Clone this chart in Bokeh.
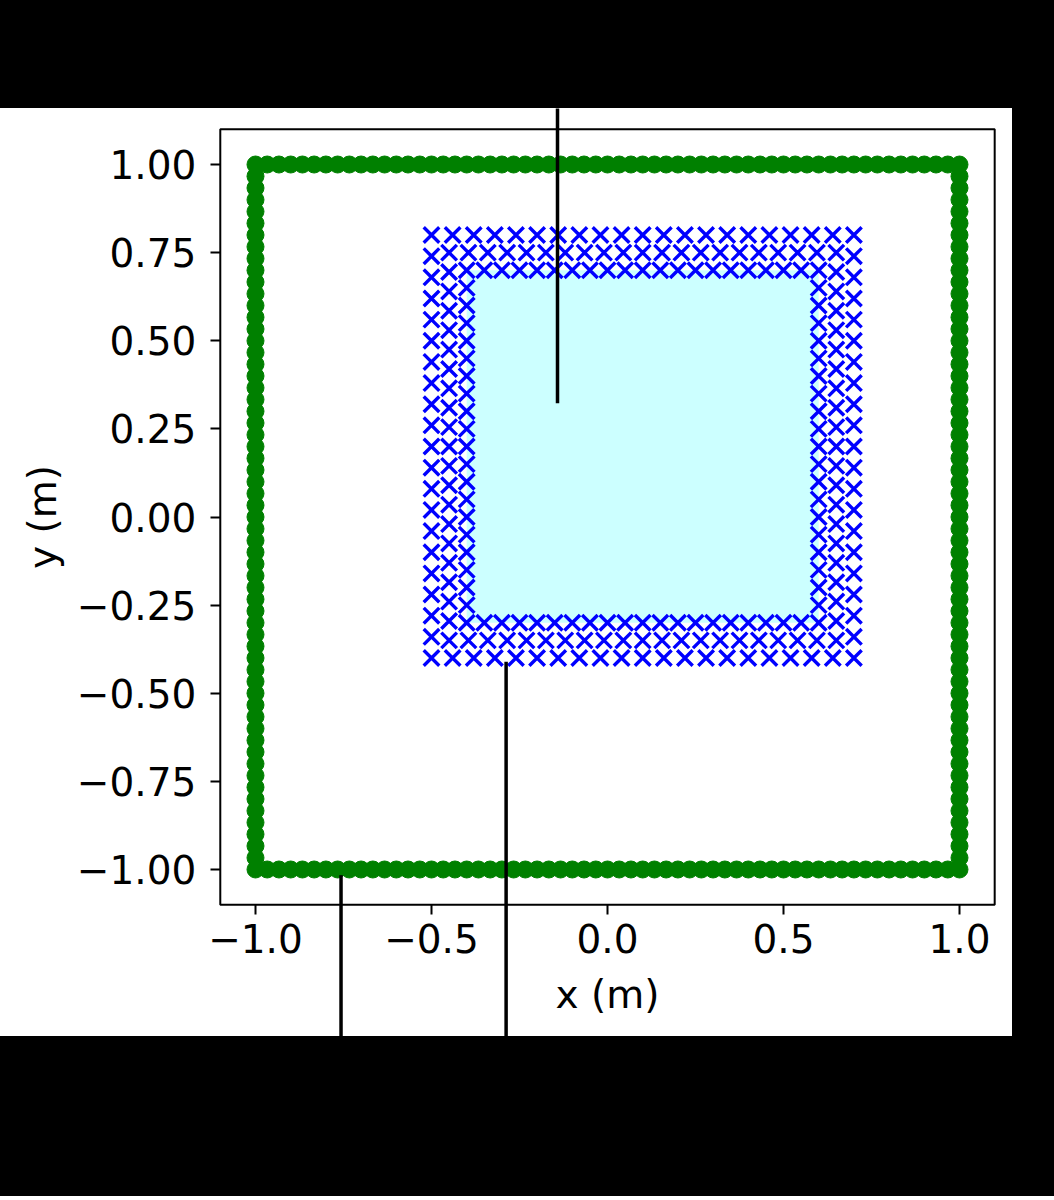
import numpy as np
from bokeh.plotting import figure
from bokeh.models import Arrow, FixedTicker, Range1d, Div, BoxAnnotation, Label
from bokeh.layouts import column, row
from bokeh.embed import file_html
from bokeh.resources import INLINE

# ---- data ----
# outer boundary: green circles on the square [-1, 1] x [-1, 1]
outer_lo, outer_hi = -1.0, 1.0
outer_per_side = 60

# interior region (light cyan) and three layers of blue crosses around it
region_left, region_right = -0.4, 0.6
region_bottom, region_top = -0.3, 0.7
layer_offsets = [0.0, 0.05, 0.1]
layer_per_side = 20

# annotation leader lines: (x, y at the tip, y far end outside the axes)
leader_x = [-0.142, -0.757, -0.288]
leader_y_tip = [0.323, -1.016, -0.411]
leader_y_far = [1.6, -1.6, -1.6]

x_ticks = [-1.0, -0.5, 0.0, 0.5, 1.0]
x_tick_labels = ["\u22121.0", "\u22120.5", "0.0", "0.5", "1.0"]
y_ticks = [1.0, 0.75, 0.5, 0.25, 0.0, -0.25, -0.5, -0.75, -1.0]
y_tick_labels = ["1.00", "0.75", "0.50", "0.25", "0.00",
                 "\u22120.25", "\u22120.50", "\u22120.75", "\u22121.00"]
x_title = "x (m)"
y_title = "y (m)"

# axes limits and the extent of the white figure area (data units)
ax_lo, ax_hi = -1.1, 1.1
fig_x_range = (-1.7244, 1.1506)
fig_y_range = (-1.4738, 1.1589)
# where the axis titles sit (data units)
x_title_pos = (0.0, -1.355)
y_title_pos = (-1.605, 0.0)


def square_perimeter(lo_x, hi_x, lo_y, hi_y, n):
    t = np.linspace(0.0, 1.0, n, endpoint=False)
    xs = np.concatenate([lo_x + (hi_x - lo_x) * t,
                         np.full(n, hi_x),
                         hi_x - (hi_x - lo_x) * t,
                         np.full(n, lo_x)])
    ys = np.concatenate([np.full(n, lo_y),
                         lo_y + (hi_y - lo_y) * t,
                         np.full(n, hi_y),
                         hi_y - (hi_y - lo_y) * t])
    return xs, ys


gx, gy = square_perimeter(outer_lo, outer_hi, outer_lo, outer_hi, outer_per_side)

bx, by = [], []
for d in layer_offsets:
    xs, ys = square_perimeter(region_left - d, region_right + d,
                              region_bottom - d, region_top + d, layer_per_side)
    bx.append(xs)
    by.append(ys)
bx = np.concatenate(bx)
by = np.concatenate(by)

FONT = "DejaVu Sans"
FS = "39px"

p = figure(width=1012, height=928, output_backend="svg", toolbar_location=None,
           x_range=Range1d(*fig_x_range), y_range=Range1d(*fig_y_range),
           min_border=0)
p.background_fill_color = "white"
p.border_fill_color = "white"
p.outline_line_color = None
p.xgrid.visible = False
p.ygrid.visible = False

p.quad(left=[region_left], right=[region_right], bottom=[region_bottom], top=[region_top],
       fill_color="#ccffff", line_color=None)
p.scatter(bx, by, marker="x", size=22, line_color="blue", line_width=3.4)
p.scatter(gx, gy, marker="circle", size=17, fill_color="green", line_color="green", line_width=1)

for xv, y0, y1 in zip(leader_x, leader_y_tip, leader_y_far):
    p.add_layout(Arrow(end=None, x_start=xv, y_start=y0, x_end=xv, y_end=y1,
                       line_color="black", line_width=3.5))

# axes box
p.add_layout(BoxAnnotation(left=ax_lo, right=ax_hi, bottom=ax_lo, top=ax_hi,
                           fill_color=None, line_color="black", line_width=2,
                           line_alpha=1))

p.xaxis.fixed_location = ax_lo
p.yaxis.fixed_location = ax_lo
p.xaxis.ticker = FixedTicker(ticks=x_ticks)
p.xaxis.major_label_overrides = dict(zip(x_ticks, x_tick_labels))
p.yaxis.ticker = FixedTicker(ticks=y_ticks)
p.yaxis.major_label_overrides = dict(zip(y_ticks, y_tick_labels))

for ax in (p.xaxis, p.yaxis):
    ax.axis_line_color = None
    ax.minor_tick_line_color = None
    ax.major_tick_out = 10
    ax.major_tick_in = 0
    ax.major_tick_line_width = 2
    ax.major_tick_line_color = "black"
    ax.major_label_text_font = FONT
    ax.major_label_text_font_size = FS
    ax.major_label_text_color = "black"

p.xaxis.major_label_standoff = 9
p.yaxis.major_label_standoff = 14

p.add_layout(Label(x=x_title_pos[0], y=x_title_pos[1], text=x_title,
                   text_font=FONT, text_font_size=FS, text_color="black",
                   text_align="center", text_baseline="middle"))
p.add_layout(Label(x=y_title_pos[0], y=y_title_pos[1], text=y_title, angle=np.pi / 2,
                   text_font=FONT, text_font_size=FS, text_color="black",
                   text_align="center", text_baseline="middle"))

black = {"background-color": "black"}
top_pad = Div(text="", width=1054, height=108, margin=0, styles=black)
right_pad = Div(text="", width=42, height=928, margin=0, styles=black)
bottom_pad = Div(text="", width=1054, height=160, margin=0, styles=black)

layout = column(top_pad, row(p, right_pad), bottom_pad)

open("out.html", "w").write(file_html(layout, INLINE))
